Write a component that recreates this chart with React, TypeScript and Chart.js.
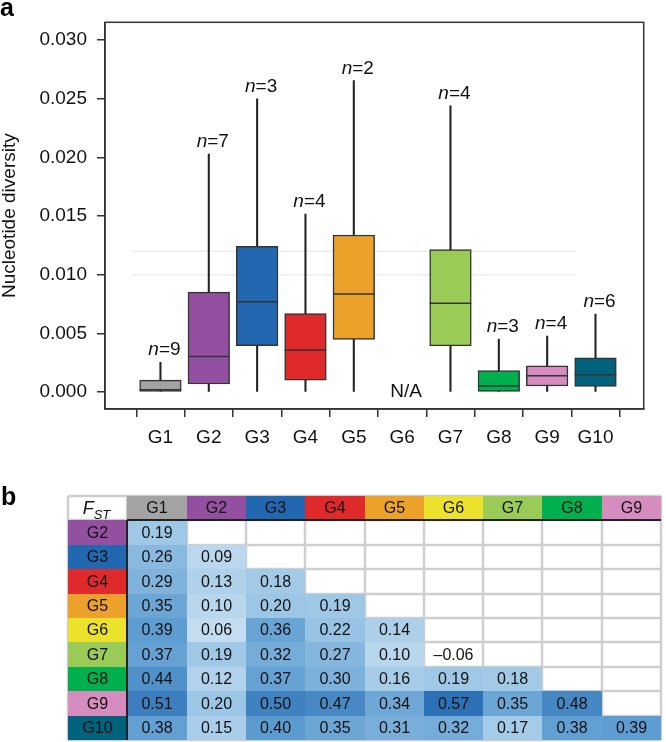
import React, { useEffect, useRef } from 'react';
import { Chart, registerables } from 'chart.js';
Chart.register(...registerables);

const FONT = '"Liberation Sans", Arial, Helvetica, sans-serif';

// ---------- Panel a: nucleotide diversity ----------
const groups = ['G1', 'G2', 'G3', 'G4', 'G5', 'G6', 'G7', 'G8', 'G9', 'G10'];
const groupColors = ['#a3a3a3', '#9450a0', '#2268b0', '#e0292b', '#eca12b', '#ece22c', '#99cb56', '#00b04e', '#d78cbf', '#00627d'];
const whiskerLow = [0, 0, 0, 0, 0, null, 0, 0, 0, 0];
const q1 = [0, 0.0007, 0.00397, 0.00103, 0.0045, null, 0.00395, 0, 0.00053, 0.0005];
const medians = [0.0002, 0.00304, 0.0077, 0.0036, 0.00836, null, 0.00757, 0.00053, 0.00141, 0.00149];
const q3 = [0.00103, 0.00853, 0.01242, 0.0067, 0.01339, null, 0.01214, 0.00185, 0.00224, 0.00293];
const whiskerHigh = [0.00254, 0.02028, 0.025, 0.01518, 0.02655, null, 0.0244, 0.00453, 0.00478, 0.00666];
const sampleSizes = [9, 7, 3, 4, 2, null, 4, 3, 4, 6];
const missingLabel = 'N/A';
const yTicks = [0, 0.005, 0.01, 0.015, 0.02, 0.025, 0.03];
const refLines = [0.01, 0.012];
const refLineEnd = 9.6;

// ---------- Panel b: pairwise FST ----------
const fstColLabels = ['G1', 'G2', 'G3', 'G4', 'G5', 'G6', 'G7', 'G8', 'G9'];
const fstRowLabels = ['G2', 'G3', 'G4', 'G5', 'G6', 'G7', 'G8', 'G9', 'G10'];
const fstG2 = [0.19];
const fstG3 = [0.26, 0.09];
const fstG4 = [0.29, 0.13, 0.18];
const fstG5 = [0.35, 0.10, 0.20, 0.19];
const fstG6 = [0.39, 0.06, 0.36, 0.22, 0.14];
const fstG7 = [0.37, 0.19, 0.32, 0.27, 0.10, -0.06];
const fstG8 = [0.44, 0.12, 0.37, 0.30, 0.16, 0.19, 0.18];
const fstG9 = [0.51, 0.20, 0.50, 0.47, 0.34, 0.57, 0.35, 0.48];
const fstG10 = [0.38, 0.15, 0.40, 0.35, 0.31, 0.32, 0.17, 0.38, 0.39];
const fstRows = [fstG2, fstG3, fstG4, fstG5, fstG6, fstG7, fstG8, fstG9, fstG10];

const X_MIN = 0.41;
const X_MAX = 10.44;
const Y_MIN = -0.00143;
const Y_MAX = 0.03151;

function hexToRgb(h: string) {
  const n = parseInt(h.slice(1), 16);
  return [(n >> 16) & 255, (n >> 8) & 255, n & 255];
}
const blueStops: [number, string][] = [
  [0, '#d4e5f3'],
  [0.2, '#9cc6e5'],
  [0.4, '#5b9bd0'],
  [0.6, '#2468b0'],
];
function fstColor(v: number): string | null {
  if (v <= 0) return null;
  const t = Math.min(v, 0.6);
  for (let i = 0; i < blueStops.length - 1; i++) {
    const [a, ca] = blueStops[i];
    const [b, cb] = blueStops[i + 1];
    if (t >= a && t <= b) {
      const f = (t - a) / (b - a);
      const A = hexToRgb(ca), B = hexToRgb(cb);
      const c = A.map((x, k) => Math.round(x + (B[k] - x) * f));
      return `rgb(${c[0]},${c[1]},${c[2]})`;
    }
  }
  return blueStops[blueStops.length - 1][1];
}

const idx = groups.map((_, i) => i).filter((i) => q1[i] !== null);

const boxPlugin = {
  id: 'boxExtras',
  afterDatasetsDraw(chart: any) {
    const { ctx, chartArea, scales } = chart;
    const xs = scales.x, ys = scales.y;
    ctx.save();
    // n labels
    ctx.textBaseline = 'alphabetic';
    groups.forEach((g, i) => {
      const n = sampleSizes[i];
      const top = whiskerHigh[i];
      if (n === null || top === null) return;
      const cx = xs.getPixelForValue(i + 1) + 4;
      const by = ys.getPixelForValue(top) - 7;
      ctx.font = `italic 19px ${FONT}`;
      const wn = ctx.measureText('n').width;
      ctx.font = `19px ${FONT}`;
      const rest = '=' + n;
      const wr = ctx.measureText(rest).width;
      const sx = cx - (wn + wr) / 2;
      ctx.fillStyle = '#111';
      ctx.textAlign = 'left';
      ctx.font = `italic 19px ${FONT}`;
      ctx.fillText('n', sx, by);
      ctx.font = `19px ${FONT}`;
      ctx.fillText(rest, sx + wn, by);
    });
    // N/A label
    groups.forEach((g, i) => {
      if (q1[i] !== null) return;
      ctx.font = `19px ${FONT}`;
      ctx.fillStyle = '#111';
      ctx.textAlign = 'center';
      ctx.textBaseline = 'middle';
      ctx.fillText(missingLabel, xs.getPixelForValue(i + 1) + 4, ys.getPixelForValue(0));
    });
    // frame
    ctx.strokeStyle = '#333';
    ctx.lineWidth = 1.5;
    ctx.strokeRect(chartArea.left, chartArea.top, chartArea.right - chartArea.left, chartArea.bottom - chartArea.top);
    // panel label
    ctx.font = `bold 25px ${FONT}`;
    ctx.textAlign = 'left';
    ctx.textBaseline = 'alphabetic';
    ctx.fillStyle = '#000';
    ctx.fillText('a', 0, 16);
    ctx.restore();
  },
};

const tablePlugin = {
  id: 'fstTable',
  afterDraw(chart: any) {
    const { ctx, scales } = chart;
    const X = (c: number) => Math.round(scales.x.getPixelForValue(c));
    const Y = (r: number) => Math.round(scales.y.getPixelForValue(r));
    const nC = fstColLabels.length + 1;
    const nR = fstRowLabels.length + 1;
    ctx.save();
    ctx.fillStyle = '#fff';
    ctx.fillRect(X(0), Y(0), X(nC) - X(0), Y(nR) - Y(0));
    // light grid
    ctx.strokeStyle = '#cfcfcf';
    ctx.lineWidth = 2.5;
    ctx.beginPath();
    for (let c = 0; c <= nC; c++) {
      ctx.moveTo(X(c), Y(0));
      ctx.lineTo(X(c), Y(nR));
    }
    for (let r = 0; r <= nR; r++) {
      ctx.moveTo(X(0), Y(r));
      ctx.lineTo(X(nC), Y(r));
    }
    ctx.stroke();
    const cell = (c: number, r: number, color: string) => {
      ctx.fillStyle = color;
      ctx.fillRect(X(c), Y(r), X(c + 1) - X(c), Y(r + 1) - Y(r));
    };
    // header colours
    fstColLabels.forEach((g, j) => cell(j + 1, 0, groupColors[groups.indexOf(g)]));
    fstRowLabels.forEach((g, i) => cell(0, i + 1, groupColors[groups.indexOf(g)]));
    // values
    fstRows.forEach((row, i) => {
      row.forEach((v, j) => {
        const col = fstColor(v);
        if (col) cell(j + 1, i + 1, col);
      });
    });
    // thick separators
    ctx.strokeStyle = '#222';
    ctx.lineWidth = 2;
    ctx.beginPath();
    ctx.moveTo(X(1), Y(1));
    ctx.lineTo(X(nC), Y(1));
    ctx.moveTo(X(1), Y(1));
    ctx.lineTo(X(1), Y(nR));
    ctx.stroke();
    // text
    ctx.fillStyle = '#111';
    ctx.textAlign = 'center';
    ctx.textBaseline = 'middle';
    ctx.font = `16px ${FONT}`;
    const cx = (c: number) => (X(c) + X(c + 1)) / 2;
    const cy = (r: number) => (Y(r) + Y(r + 1)) / 2 + 1;
    fstColLabels.forEach((g, j) => ctx.fillText(g, cx(j + 1), cy(0)));
    fstRowLabels.forEach((g, i) => ctx.fillText(g, cx(0), cy(i + 1)));
    fstRows.forEach((row, i) => {
      row.forEach((v, j) => {
        const s = v < 0 ? '\u2013' + Math.abs(v).toFixed(2) : v.toFixed(2);
        ctx.fillText(s, cx(j + 1), cy(i + 1));
      });
    });
    // F_ST header
    ctx.textAlign = 'left';
    ctx.textBaseline = 'alphabetic';
    ctx.font = `italic 18px ${FONT}`;
    const wF = ctx.measureText('F').width;
    ctx.font = `italic 13px ${FONT}`;
    const wS = ctx.measureText('ST').width;
    const sx = cx(0) - (wF + wS) / 2 - 1;
    const base = cy(0) + 5;
    ctx.font = `italic 18px ${FONT}`;
    ctx.fillText('F', sx, base);
    ctx.font = `italic 13px ${FONT}`;
    ctx.fillText('ST', sx + wF, base + 5);
    // panel label
    ctx.font = `bold 25px ${FONT}`;
    ctx.fillStyle = '#000';
    ctx.fillText('b', 1, 35);
    ctx.restore();
  },
};

export default function App() {
  const boxRef = useRef<HTMLCanvasElement>(null);
  const tableRef = useRef<HTMLCanvasElement>(null);

  useEffect(() => {
    Chart.defaults.font.family = FONT;
    const refDatasets = refLines.map((v) => ({
      type: 'line' as const,
      data: [{ x: X_MIN, y: v }, { x: refLineEnd, y: v }],
      borderColor: '#ededed',
      borderWidth: 1.5,
      pointRadius: 0,
      order: 10,
    }));
    const boxChart = new Chart(boxRef.current!, {
      type: 'bar',
      data: {
        datasets: [
          ...refDatasets,
          {
            type: 'bar',
            data: idx.map((i) => ({ x: i + 1, y: [whiskerLow[i], whiskerHigh[i]] })) as any,
            backgroundColor: '#222',
            borderWidth: 0,
            barThickness: 1.4,
            grouped: false,
            order: 5,
          },
          {
            type: 'bar',
            data: idx.map((i) => ({ x: i + 1, y: [q1[i], q3[i]] })) as any,
            backgroundColor: idx.map((i) => groupColors[i]),
            borderColor: '#333',
            borderWidth: 1.5,
            borderSkipped: false,
            barThickness: 41.6,
            grouped: false,
            order: 3,
          },
          {
            type: 'scatter',
            data: idx.map((i) => ({ x: i + 1, y: medians[i] })) as any,
            pointStyle: 'line',
            pointRadius: 20.8,
            pointHoverRadius: 20.8,
            borderColor: '#333',
            borderWidth: 1.5,
            order: 1,
          },
        ] as any,
      },
      options: {
        animation: false,
        responsive: false,
        devicePixelRatio: 1,
        layout: { padding: { left: 0, top: 11, right: 1, bottom: 0 } },
        plugins: { legend: { display: false }, tooltip: { enabled: false } },
        scales: {
          x: {
            type: 'linear',
            min: X_MIN,
            max: X_MAX,
            afterBuildTicks: (s: any) => {
              s.ticks = groups.map((_, i) => ({ value: i + 1 }));
            },
            afterFit: (s: any) => {
              s.height = 61;
            },
            ticks: {
              callback: (v: any) => groups[Math.round(v) - 1] ?? '',
              font: { size: 19, family: FONT },
              color: '#111',
              padding: 9,
              maxRotation: 0,
              autoSkip: false,
            },
            grid: { drawOnChartArea: false, tickLength: 8, color: '#333', lineWidth: 1.5 },
            border: { display: true, color: '#333', width: 1.5 },
          },
          y: {
            type: 'linear',
            min: Y_MIN,
            max: Y_MAX,
            afterBuildTicks: (s: any) => {
              s.ticks = yTicks.map((v) => ({ value: v }));
            },
            afterFit: (s: any) => {
              s.width = 105;
            },
            ticks: {
              callback: (v: any) => Number(v).toFixed(3),
              font: { size: 19, family: FONT },
              color: '#111',
              padding: 10,
            },
            grid: { drawOnChartArea: false, tickLength: 8, color: '#333', lineWidth: 1.5 },
            border: { display: true, color: '#333', width: 1.5 },
            title: {
              display: true,
              text: 'Nucleotide diversity',
              font: { size: 19, family: FONT, lineHeight: 1 },
              color: '#111',
              padding: 0,
            },
          },
        },
      } as any,
      plugins: [boxPlugin],
    });

    const tableChart = new Chart(tableRef.current!, {
      type: 'scatter',
      data: { datasets: [] },
      options: {
        animation: false,
        responsive: false,
        devicePixelRatio: 1,
        layout: { padding: { left: 68, top: 26, right: 5, bottom: 2 } },
        plugins: { legend: { display: false }, tooltip: { enabled: false } },
        scales: {
          x: { type: 'linear', min: 0, max: 10, display: false },
          y: { type: 'linear', min: 0, max: 10, reverse: true, display: false },
        },
      } as any,
      plugins: [tablePlugin],
    });

    return () => {
      boxChart.destroy();
      tableChart.destroy();
    };
  }, []);

  return (
    <div style={{ position: 'absolute', left: 0, top: 0, width: 666, height: 742, background: '#fff', overflow: 'hidden' }}>
      <canvas ref={boxRef} width={666} height={470} style={{ position: 'absolute', left: 0, top: 0, width: 666, height: 470 }} />
      <canvas ref={tableRef} width={666} height={272} style={{ position: 'absolute', left: 0, top: 470, width: 666, height: 272 }} />
    </div>
  );
}
